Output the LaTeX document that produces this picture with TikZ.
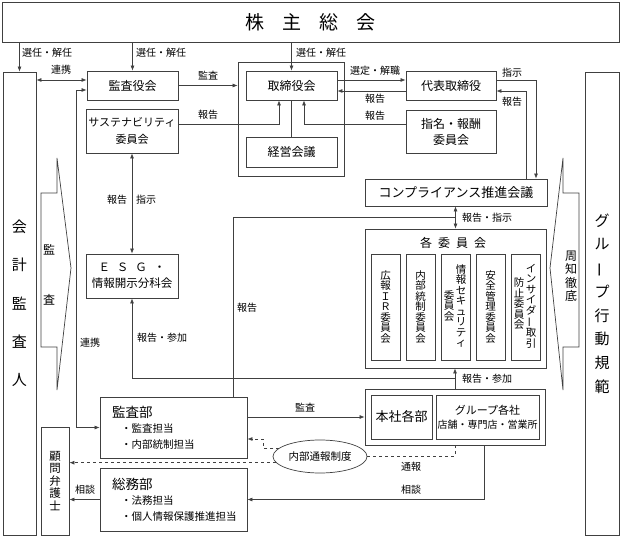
\documentclass[tikz,border=0pt]{standalone}
\usepackage{fontspec}
\setmainfont{Noto Sans CJK JP}
\usepackage{graphicx}
\usetikzlibrary{positioning}
\usetikzlibrary{calc}
\usetikzlibrary{arrows.meta}
\usetikzlibrary{shapes.geometric}
\definecolor{linegray}{rgb}{0.25,0.25,0.25}
\newcommand{\tatebou}{\rotatebox[origin=c]{90}{ー}}

\begin{document}
\begin{tikzpicture}
    [x=1pt, y=-1pt,
    box/.style={draw=linegray, line width=0.8pt, inner sep=0pt, align=center, font=\fontsize{12}{15}\selectfont},
    lbl/.style={inner sep=0pt, align=center, font=\fontsize{10}{12}\selectfont},
    tate/.style={box, font=\fontsize{10.5}{10.5}\selectfont, minimum width=29pt, minimum height=106pt},
    bumon/.style={box, minimum width=147pt, text width=127pt, inner xsep=10pt, align=left, font=\fontsize{10.5}{15.5}\selectfont},
    conn/.style={draw=linegray, line width=0.7pt},
    >={Latex[length=5pt,width=4pt]}]
    \useasboundingbox (0,0) rectangle (621,537);
    % boxes
    \node[box, minimum width=617pt, minimum height=40pt, font=\fontsize{19}{22}\selectfont] (soukai) at (310.5,22.5) {株\hspace{18pt}主\hspace{18pt}総\hspace{18pt}会};
    \node[box, minimum width=33pt, minimum height=463pt, font=\fontsize{15}{38.3}\selectfont] (kaikei) at (19.5,303.5) {会\\計\\監\\査\\人};
    \node[box, minimum width=34pt, minimum height=463pt, font=\fontsize{15}{23.7}\selectfont] (kihan) at (602,303.5) {グ\\ル\\\tatebou\\プ\\行\\動\\規\\範};
    \node[box, minimum width=91pt, minimum height=29pt] (kansayaku) at (132.5,85.5) {監査役会};
    \node[box, minimum width=92pt, minimum height=44pt, font=\fontsize{11}{17}\selectfont] (sustain) at (132,131) {サステナビリティ\\委員会};
    \node[box, minimum width=92pt, minimum height=44pt, font=\fontsize{11.5}{16}\selectfont] (esg) at (132,276) {Ｅ\hspace{7pt}Ｓ\hspace{7pt}Ｇ\hspace{7pt}・\\情報開示分科会};
    \node[box, minimum width=106pt, minimum height=114pt] (boardgrp) at (291,119) {};
    \node[box, minimum width=91pt, minimum height=29pt] (board) at (291.5,85.5) {取締役会};
    \node[box, minimum width=91pt, minimum height=30pt] (keiei) at (291.5,152) {経営会議};
    \node[box, minimum width=90pt, minimum height=29pt] (daihyo) at (451,85.5) {代表取締役};
    \node[box, minimum width=90pt, minimum height=43pt, font=\fontsize{12}{16}\selectfont] (shimei) at (451,131.5) {指名・報酬\\委員会};
    \node[box, minimum width=182pt, minimum height=27pt, font=\fontsize{13}{15}\selectfont] (comp) at (456,192.5) {コンプライアンス推進会議};
    \node[box, minimum width=181pt, minimum height=139pt] (iinkai) at (455.5,298.5) {};
    \node[lbl, font=\fontsize{12}{14}\selectfont] (iinkaittl) at (453,243) {各\hspace{6pt}委\hspace{6pt}員\hspace{6pt}会};
    \node[tate] (kouhou) at (385.5,307) {広\\報\\Ｉ\\Ｒ\\委\\員\\会};
    \node[tate] (naibu) at (420.5,307) {内\\部\\統\\制\\委\\員\\会};
    \node[tate] (jouhou) at (455.5,307) {};
    \node[lbl, font=\fontsize{10.5}{10.5}\selectfont] (jouhouA) at (461,306) {情\\報\\セ\\キ\\ュ\\リ\\テ\\ィ};
    \node[lbl, font=\fontsize{10.5}{10.5}\selectfont] (jouhouB) at (449,306) {委\\員\\会};
    \node[tate] (anzen) at (490.5,307) {安\\全\\管\\理\\委\\員\\会};
    \node[tate] (insider) at (525.5,307) {};
    \node[lbl, font=\fontsize{10.5}{10.5}\selectfont] (insiderA) at (531,306) {イ\\ン\\サ\\イ\\ダ\\\tatebou\\取\\引};
    \node[lbl, font=\fontsize{10.5}{10.5}\selectfont] (insiderB) at (519,304) {防\\止\\委\\員\\会};
    \node[box, minimum width=180pt, minimum height=56pt] (hgrp) at (455,417) {};
    \node[box, minimum width=61pt, minimum height=44pt, font=\fontsize{13}{15}\selectfont] (honsha) at (401.5,417) {本社各部};
    \node[box, minimum width=103pt, minimum height=44pt, font=\fontsize{11}{14}\selectfont] (groupco) at (487.5,417) {グループ各社\\{\fontsize{10}{12}\selectfont 店舗・専門店・営業所}};
    \node[bumon, minimum height=61pt] (kansabu) at (173.5,427.5) {\hspace*{2pt}{\fontsize{13.5}{15.5}\selectfont 監査部}\\\hspace*{11pt}・監査担当\\\hspace*{11pt}・内部統制担当};
    \node[bumon, minimum height=63pt] (soumu) at (173.5,499.5) {\hspace*{2pt}{\fontsize{13.5}{15.5}\selectfont 総務部}\\\hspace*{11pt}・法務担当\\\hspace*{11pt}・個人情報保護推進担当};
    \node[box, minimum width=28pt, minimum height=108pt, font=\fontsize{11.5}{12.5}\selectfont] (komon) at (55,481) {顧\\問\\弁\\護\\士};
    \node[ellipse, draw=linegray, line width=0.7pt, minimum width=94pt, minimum height=33pt, inner sep=0pt, font=\fontsize{10.5}{12}\selectfont] (tsuho) at (320,456.5) {内部通報制度};
    % callouts
    \draw[conn] (57,158) -- (71,268) -- (57,390) -- (57,347) -- (41,347) -- (41,193) -- (57,193) -- cycle;
    \draw[conn] (563,158) -- (563,193) -- (579,193) -- (579,347) -- (563,347) -- (563,390) -- (550,268) -- cycle;
    \node[lbl, font=\fontsize{12}{50}\selectfont] (kansa) at (49,275) {監\\査};
    \node[lbl, font=\fontsize{12}{13.5}\selectfont] (shuchi) at (571,276) {周\\知\\徹\\底};
    % junctions
    \coordinate (renkei) at (76,427.5);
    \coordinate (junc1) at ($(comp.south -| iinkai.north)!0.5!(iinkai.north)$);
    \coordinate (junc2) at ($(hgrp.north)!0.5!(hgrp.north |- iinkai.south)$);
    % connectors
    \draw[conn, ->] (soukai.south -| kaikei.north) -- (kaikei.north);
    \draw[conn, ->] (soukai.south -| kansayaku.north) -- (kansayaku.north);
    \draw[conn, ->] (soukai.south -| board.north) -- (board.north);
    \draw[conn, <->] ([yshift=5.5pt]kansayaku.west) -- ([yshift=5.5pt]kansayaku.west -| kaikei.east);
    \draw[conn, <->] ([yshift=-4.5pt]kansayaku.west) -| (renkei) -- (kansabu.west);
    \draw[conn, ->] (kansayaku.east) -- (kansayaku.east -| boardgrp.west);
    \draw[conn, ->] ([yshift=7pt]sustain.east) -| ([xshift=-12.5pt]board.south);
    \draw[conn, ->] ([yshift=7.5pt]shimei.west) -| ([xshift=12.5pt]board.south);
    \draw[conn] (board) -- (keiei);
    \draw[conn, ->] ([yshift=5.5pt]board.east) -- ([yshift=5.5pt]daihyo.west);
    \draw[conn, ->] ([yshift=-5.5pt]daihyo.west) -- ([yshift=-5.5pt]board.east);
    \draw[conn, ->] ([yshift=5.5pt]daihyo.east) -| ([xshift=80pt]comp.north);
    \draw[conn, ->] ([xshift=70pt]comp.north) |- ([yshift=-5.5pt]daihyo.east);
    \draw[conn, <->] (comp.south -| iinkai.north) -- (iinkai.north);
    \draw[conn] ([xshift=59.5pt]kansabu.north) |- (junc1);
    \draw[conn, <->] (sustain) -- (esg);
    \draw[conn, ->] (hgrp.north) -- (hgrp.north |- iinkai.south);
    \draw[conn, ->] (junc2) -| (esg.south);
    \draw[conn, ->] ([yshift=10.5pt]kansabu.east) -- (hgrp.west);
    \draw[conn, dashed] (tsuho.east) -| (hgrp.south);
    \draw[conn, dashed, ->] (tsuho.168) -| ([xshift=16pt, yshift=-11.5pt]kansabu.east) -- ([yshift=-11.5pt]kansabu.east);
    \draw[conn, dashed, ->] (tsuho.188) -- (tsuho.188 -| komon.east);
    \draw[conn, ->] ([xshift=29pt]hgrp.south) |- (soumu.east);
    \draw[conn, ->] (soumu.west) -- (soumu.west -| komon.east);
    % labels
    \node[lbl] (sennin1) at (47,53) {選任・解任};
    \node[lbl] (sennin2) at (161,53) {選任・解任};
    \node[lbl] (sennin3) at (321,53) {選任・解任};
    \node[lbl] (renkei1) at (61,70) {連携};
    \node[lbl] (kansa1) at (208,76) {監査};
    \node[lbl] (hokoku1) at (208,115) {報告};
    \node[lbl] (sentei) at (375,71) {選定・解職};
    \node[lbl] (hokoku2) at (375,99) {報告};
    \node[lbl] (hokoku3) at (375,116) {報告};
    \node[lbl] (shiji1) at (512,73) {指示};
    \node[lbl] (hokoku4) at (512,102) {報告};
    \node[lbl] (hokoku5) at (117,200) {報告};
    \node[lbl] (shiji2) at (146,200) {指示};
    \node[lbl] (hoshi) at (487,218) {報告・指示};
    \node[lbl] (hokoku6) at (247,308) {報告};
    \node[lbl] (renkei2) at (90,343) {連携};
    \node[lbl] (sanka1) at (162,338) {報告・参加};
    \node[lbl] (sanka2) at (487,379) {報告・参加};
    \node[lbl] (kansa2) at (305,408) {監査};
    \node[lbl] (tsuho1) at (411,467) {通報};
    \node[lbl] (soudan1) at (411,490) {相談};
    \node[lbl] (soudan2) at (85,490) {相談};
\end{tikzpicture}
\end{document}
